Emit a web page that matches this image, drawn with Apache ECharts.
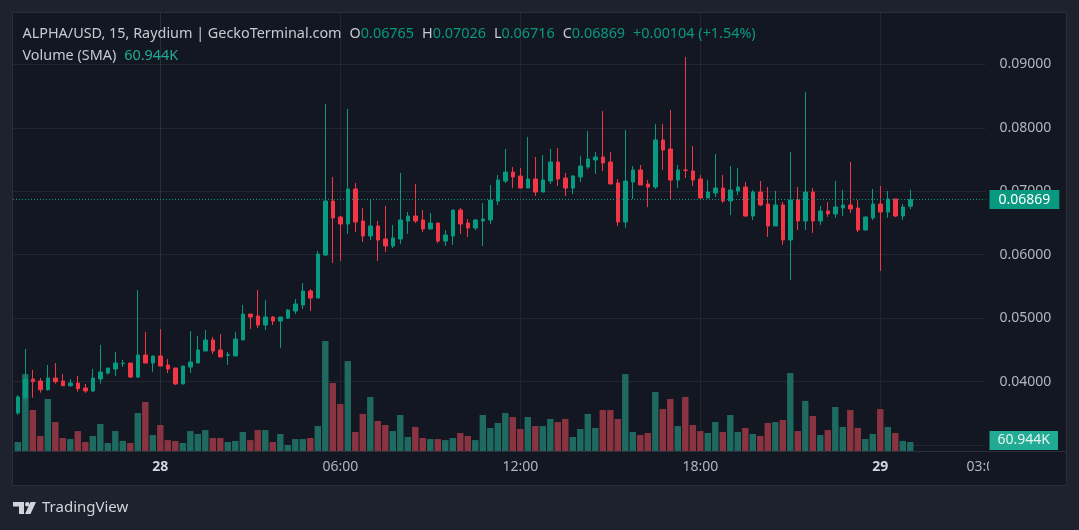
<!DOCTYPE html>
<html><head><meta charset="utf-8">
<script src="https://cdn.jsdelivr.net/npm/echarts@6/dist/echarts.min.js"></script>
<style>html,body{margin:0;padding:0;background:#1e222d}#c{width:1079px;height:530px}</style>
</head><body><div id="c"></div>
<script>
const symbolTitle = 'ALPHA/USD, 15, Raydium | GeckoTerminal.com';
const volumeTitle = 'Volume (SMA)';
const brandText = 'TradingView';

// 15-minute bars, "day HH:MM"
const times = [
'27 19:15','27 19:30','27 19:45','27 20:00','27 20:15','27 20:30','27 20:45','27 21:00','27 21:15','27 21:30','27 21:45','27 22:00','27 22:15','27 22:30','27 22:45','27 23:00','27 23:15','27 23:30','27 23:45',
'28 00:00','28 00:15','28 00:30','28 00:45','28 01:00','28 01:15','28 01:30','28 01:45','28 02:00','28 02:15','28 02:30','28 02:45','28 03:00','28 03:15','28 03:30','28 03:45',
'28 04:00','28 04:15','28 04:30','28 04:45','28 05:00','28 05:15','28 05:30','28 05:45','28 06:00','28 06:15','28 06:30','28 06:45','28 07:00','28 07:15','28 07:30','28 07:45',
'28 08:00','28 08:15','28 08:30','28 08:45','28 09:00','28 09:15','28 09:30','28 09:45','28 10:00','28 10:15','28 10:30','28 10:45','28 11:00','28 11:15','28 11:30','28 11:45',
'28 12:00','28 12:15','28 12:30','28 12:45','28 13:00','28 13:15','28 13:30','28 13:45','28 14:00','28 14:15','28 14:30','28 14:45','28 15:00','28 15:15','28 15:30','28 15:45',
'28 16:00','28 16:15','28 16:30','28 16:45','28 17:00','28 17:15','28 17:30','28 17:45','28 18:00','28 18:15','28 18:30','28 18:45','28 19:00','28 19:15','28 19:30','28 19:45',
'28 20:00','28 20:15','28 20:30','28 20:45','28 21:00','28 21:15','28 21:30','28 21:45','28 22:00','28 22:15','28 22:30','28 22:45','28 23:00','28 23:15','28 23:30','28 23:45',
'29 00:00','29 00:15','29 00:30','29 00:45','29 01:00'
];

const open = [
0.03507,0.03748,0.04042,0.04011,0.03874,0.04058,0.04011,0.03937,0.03979,0.03901,0.03853,0.04042,0.04137,0.04200,0.04284,0.04294,0.04074,0.04420,0.04294,
0.04405,0.04263,0.04216,0.03964,0.04231,0.04294,0.04483,0.04657,0.04499,0.04415,0.04405,0.04657,0.05066,0.05035,0.04893,0.05019,
0.04956,0.05003,0.05113,0.05208,0.05429,0.05318,0.05996,0.06846,0.06594,0.06484,0.07036,0.06531,0.06295,0.06453,0.06248,0.06138,
0.06248,0.06531,0.06610,0.06547,0.06405,0.06500,0.06216,0.06295,0.06705,0.06500,0.06421,0.06531,0.06547,0.06846,0.07161,0.07303,
0.07240,0.07051,0.07193,0.06988,0.07161,0.07461,0.07209,0.07051,0.07225,0.07382,0.07492,0.07540,0.07461,0.07130,0.06516,0.07146,
0.07335,0.07114,0.07067,0.07808,0.07666,0.07177,0.07335,0.07319,0.07193,0.06894,0.06973,0.07051,0.06847,0.07004,0.07067,0.06610,
0.06988,0.06799,0.06453,0.06784,0.06232,0.06862,0.06532,0.06988,0.06532,0.06689,0.06642,0.06736,0.06784,0.06736,0.06390,0.06579,
0.06799,0.06673,0.06878,0.06610,0.06765
];
const close = [
0.03759,0.04042,0.04000,0.03874,0.04058,0.04000,0.03937,0.03979,0.03890,0.03853,0.04058,0.04153,0.04216,0.04294,0.04290,0.04074,0.04420,0.04294,0.04405,
0.04247,0.04200,0.03964,0.04247,0.04310,0.04499,0.04657,0.04483,0.04389,0.04425,0.04672,0.05066,0.05019,0.04893,0.05019,0.04956,
0.05019,0.05129,0.05224,0.05429,0.05318,0.06011,0.06846,0.06579,0.06484,0.07036,0.06516,0.06295,0.06453,0.06232,0.06138,0.06264,
0.06547,0.06610,0.06531,0.06405,0.06500,0.06216,0.06311,0.06705,0.06484,0.06421,0.06547,0.06563,0.06862,0.07177,0.07303,0.07225,
0.07051,0.07193,0.06988,0.07177,0.07461,0.07193,0.07051,0.07240,0.07398,0.07508,0.07540,0.07445,0.07114,0.06516,0.07161,0.07335,
0.07099,0.07067,0.07808,0.07650,0.07177,0.07335,0.07330,0.07177,0.06894,0.06988,0.07051,0.06847,0.07020,0.07067,0.06610,0.06988,
0.06784,0.06453,0.06784,0.06232,0.06862,0.06532,0.06988,0.06532,0.06689,0.06642,0.06752,0.06784,0.06721,0.06390,0.06595,0.06799,
0.06673,0.06878,0.06610,0.06752,0.06869
];
const low = [
0.03475,0.03696,0.03748,0.03827,0.03859,0.03969,0.03937,0.03922,0.03843,0.03822,0.03838,0.03969,0.04111,0.04090,0.04231,0.04058,0.04058,0.04294,0.04153,
0.04247,0.04137,0.03948,0.03964,0.04137,0.04294,0.04483,0.04436,0.04389,0.04263,0.04405,0.04657,0.04830,0.04846,0.04814,0.04893,
0.04531,0.04988,0.05066,0.05145,0.05113,0.05318,0.05980,0.05870,0.05901,0.06327,0.06358,0.06201,0.06232,0.05901,0.06043,0.06106,
0.06169,0.06327,0.06500,0.06358,0.06405,0.06185,0.06138,0.06153,0.06327,0.06279,0.06390,0.06138,0.06484,0.06783,0.07130,0.07051,
0.07051,0.07051,0.06925,0.06988,0.07114,0.07083,0.06925,0.06957,0.07146,0.07351,0.07272,0.07319,0.07114,0.06453,0.06421,0.06878,
0.07099,0.06752,0.07036,0.07335,0.06862,0.07051,0.07209,0.07083,0.06862,0.06894,0.06910,0.06815,0.06626,0.06941,0.06594,0.06547,
0.06768,0.06280,0.06453,0.06154,0.05602,0.06390,0.06390,0.06343,0.06469,0.06595,0.06579,0.06610,0.06658,0.06358,0.06374,0.06547,
0.05744,0.06579,0.06595,0.06547,0.06716
];
const high = [
0.03790,0.04515,0.04184,0.04058,0.04263,0.04294,0.04121,0.04042,0.04090,0.03964,0.04200,0.04578,0.04216,0.04468,0.04342,0.04294,0.05444,0.04783,0.04405,
0.04830,0.04357,0.04216,0.04247,0.04798,0.04720,0.04814,0.04704,0.04751,0.04468,0.04783,0.05208,0.05066,0.05444,0.05287,0.05035,
0.05019,0.05145,0.05303,0.05555,0.05460,0.06059,0.08374,0.07225,0.06610,0.08296,0.07130,0.06736,0.06862,0.06531,0.06768,0.06468,
0.07288,0.06673,0.07114,0.06705,0.06657,0.06500,0.06390,0.06705,0.06736,0.06563,0.06563,0.06815,0.07098,0.07256,0.07666,0.07382,
0.07366,0.07855,0.07540,0.07571,0.07666,0.07681,0.07288,0.07256,0.07555,0.07949,0.07618,0.08264,0.07618,0.07193,0.07965,0.07398,
0.07414,0.07177,0.08060,0.08060,0.08280,0.07414,0.09115,0.07713,0.07256,0.07177,0.07587,0.07256,0.07398,0.07366,0.07146,0.07020,
0.07162,0.07067,0.07004,0.06831,0.07618,0.07067,0.08564,0.07051,0.06768,0.06831,0.07162,0.07020,0.07461,0.06862,0.06595,0.07036,
0.07083,0.07004,0.06878,0.06799,0.07026
];
// volume in thousands
const volumeK = [
60.9,521,278,102,352,196,88,81,135,61,102,183,54,135,68,54,257,332,108,
176,74,68,54,135,115,142,88,88,61,68,129,74,142,142,61,
115,41,81,81,88,169,745,460,318,609,129,251,366,203,176,135,
244,95,163,88,81,81,74,88,122,102,74,244,156,190,257,230,
149,230,169,169,217,196,217,95,149,251,156,278,278,217,521,129,
108,122,400,284,352,169,366,176,135,122,196,129,244,129,156,115,
102,190,196,210,528,135,339,237,108,142,298,163,278,156,81,115,
284,163,122,68,60.944
];

const priceTicks = [0.03,0.04,0.05,0.06,0.07,0.08,0.09];
const xTickTimes = ['28 00:00','28 06:00','28 12:00','28 18:00','29 00:00','29 03:00'];
const xTickLabels = ['28','06:00','12:00','18:00','29','03:00'];

function toIndex(t){
  const [d, hm] = t.split(' ');
  const [h, m] = hm.split(':').map(Number);
  return ((Number(d) - 28) * 1440 + h * 60 + m) / 15;
}

const FONT = 'Noto Sans';
const GREEN = '#089981', RED = '#f23645';
const VOL_UP = '#1f6a60', VOL_DOWN = '#8a3441';
const BG = '#131722', LINE = '#2a2e39', GRIDC = '#222632';

const xs = times.map(toIndex);
const candles = xs.map((x, i) => [x, open[i], close[i], low[i], high[i]]);
const vols = xs.map((x, i) => ({ value: [x, volumeK[i]], itemStyle: { color: close[i] >= open[i] ? VOL_UP : VOL_DOWN } }));
const tickVals = xTickTimes.map(toIndex);
const gridTickVals = tickVals.slice(0, 5);

const n = times.length - 1;
const f5 = v => v.toFixed(5);
const chg = close[n] - open[n];
const sign = chg >= 0 ? '+' : '-';
const pct = (Math.abs(chg) / open[n] * 100).toFixed(2);
const header1 = `{n|${symbolTitle}}{sp| }{n|O}{g|${f5(open[n])}}{sp| }{n|H}{g|${f5(high[n])}}{sp| }{n|L}{g|${f5(low[n])}}{sp| }{n|C}{g|${f5(close[n])}}{sp| }{g|${sign}${f5(Math.abs(chg))} (${sign}${pct}%)}`;
const header2 = `{n|${volumeTitle}}{sp| }{v|${volumeK[n].toFixed(3)}K}`;

const chart = echarts.init(document.getElementById('c'), null, { renderer: 'canvas', width: 1079, height: 530 });
const gridPos = { left: 13, right: 93.5, bottom: 79 };
const HFS = 14.4;
const rt = (color) => ({ color, fontSize: HFS, fontFamily: FONT, fontWeight: 'normal', lineHeight: 22 });
const option = {
  animation: false,
  backgroundColor: '#1e222d',
  textStyle: { fontFamily: FONT },
  title: {
    left: 22.5, top: 23, padding: 0,
    text: header1 + '\n' + header2,
    textStyle: {
      fontFamily: FONT, fontSize: HFS, fontWeight: 'normal', lineHeight: 22,
      rich: {
        n: rt('#c7cad2'),
        g: rt(GREEN),
        v: rt('#22ab94'),
        sp: Object.assign(rt('#c7cad2'), { width: 8 })
      }
    }
  },
  grid: [
    Object.assign({ top: 13, outerBoundsMode: 'none' }, gridPos),
    Object.assign({ height: 200, outerBoundsMode: 'none' }, gridPos)
  ],
  xAxis: [
    {
      type: 'value', gridIndex: 0, min: -19.64, max: 110.03,
      axisLine: { show: true, lineStyle: { color: LINE } },
      axisTick: { show: false, customValues: gridTickVals },
      splitLine: { show: true, lineStyle: { color: GRIDC, width: 1 } },
      axisLabel: {
        customValues: tickVals, margin: 9.5, fontFamily: FONT, fontSize: 14, color: '#b2b5be',
        formatter: v => {
          const i = tickVals.indexOf(v);
          if (i < 0) return '';
          const l = xTickLabels[i];
          if (i === tickVals.length - 1) return '{c|' + l + '}';
          return /:/.test(l) ? '{t|' + l + '}' : '{d|' + l + '}';
        },
        rich: {
          d: { fontFamily: FONT, fontSize: 14, fontWeight: 'bold', color: '#d1d4dc' },
          t: { fontFamily: FONT, fontSize: 14, color: '#b2b5be' },
          c: { fontFamily: FONT, fontSize: 14, color: '#b2b5be', padding: [0, 0, 0, 28] }
        }
      }
    },
    { type: 'value', gridIndex: 1, min: -19.64, max: 110.03, show: false, splitLine: { show: false } }
  ],
  yAxis: [
    {
      type: 'value', gridIndex: 0, position: 'right', min: 0.029083, max: 0.098081,
      axisLine: { show: true, lineStyle: { color: LINE } },
      axisTick: { show: false, customValues: priceTicks },
      splitLine: { show: true, lineStyle: { color: GRIDC, width: 1 } },
      axisLabel: { customValues: priceTicks, margin: 14, fontFamily: FONT, fontSize: 14, color: '#b2b5be', formatter: v => v.toFixed(5) }
    },
    { type: 'value', gridIndex: 1, min: 0, max: 1354.4, show: false, splitLine: { show: false } }
  ],
  series: [
    {
      type: 'bar', xAxisIndex: 1, yAxisIndex: 1, data: vols, barWidth: 6.4, z: 1,
      markLine: {
        silent: true, symbol: ['none', 'none'], precision: 3,
        lineStyle: { color: 'rgba(0,0,0,0)', width: 0 },
        data: [{ yAxis: volumeK[n] }],
        label: {
          show: true, position: 'end', distance: 4,
          formatter: () => volumeK[n].toFixed(3) + 'K',
          color: '#e6f4f1', backgroundColor: '#22ab94', padding: [3, 8, 2, 8],
          fontFamily: FONT, fontSize: 14, offset: [0, -1.5]
        }
      }
    },
    {
      type: 'candlestick', xAxisIndex: 0, yAxisIndex: 0, data: candles, z: 3,
      encode: { x: 0, y: [1, 2, 3, 4] },
      barWidth: 4,
      itemStyle: { color: GREEN, color0: RED, borderColor: GREEN, borderColor0: RED, borderWidth: 1 }
    },
    {
      type: 'line', xAxisIndex: 0, yAxisIndex: 0, z: 4,
      data: [[xs[n], close[n]]], symbol: 'none', showSymbol: false,
      lineStyle: { width: 0 },
      markLine: {
        silent: true, symbol: ['none', 'none'], precision: 5,
        lineStyle: { color: GREEN, type: [1, 2], width: 1 },
        data: [{ yAxis: close[n] }],
        label: {
          show: true, position: 'end', distance: 4,
          formatter: () => f5(close[n]),
          color: '#ffffff', backgroundColor: GREEN, padding: [3, 9, 2, 9],
          fontFamily: FONT, fontSize: 14
        }
      }
    }
  ],
  graphic: [
    { type: 'rect', silent: true, z: -10, shape: { x: 12.5, y: 12.5, width: 1054, height: 473 }, style: { fill: BG, stroke: LINE, lineWidth: 1 } },
    { type: 'line', silent: true, z: 5, shape: { x1: 985, y1: 451.5, x2: 1066, y2: 451.5 }, style: { stroke: LINE, lineWidth: 1 } },
    { type: 'rect', silent: true, z: 50, shape: { x: 989, y: 452, width: 77, height: 33 }, style: { fill: BG } },
    { type: 'polygon', silent: true, z: 5, shape: { points: [[13, 502], [24, 502], [24, 514], [19, 514], [19, 506.5], [13, 506.5]] }, style: { fill: '#d1d4dc' } },
    { type: 'circle', silent: true, z: 5, shape: { cx: 27.3, cy: 504.3, r: 2.3 }, style: { fill: '#d1d4dc' } },
    { type: 'polygon', silent: true, z: 5, shape: { points: [[30.5, 502], [36, 502], [30.5, 514], [25, 514]] }, style: { fill: '#d1d4dc' } },
    { type: 'text', silent: true, z: 5, x: 42, y: 508, style: { text: brandText, fill: '#d1d4dc', font: '15px "Noto Sans"', textVerticalAlign: 'middle', verticalAlign: 'middle' } }
  ]
};
chart.setOption(option);
</script></body></html>
